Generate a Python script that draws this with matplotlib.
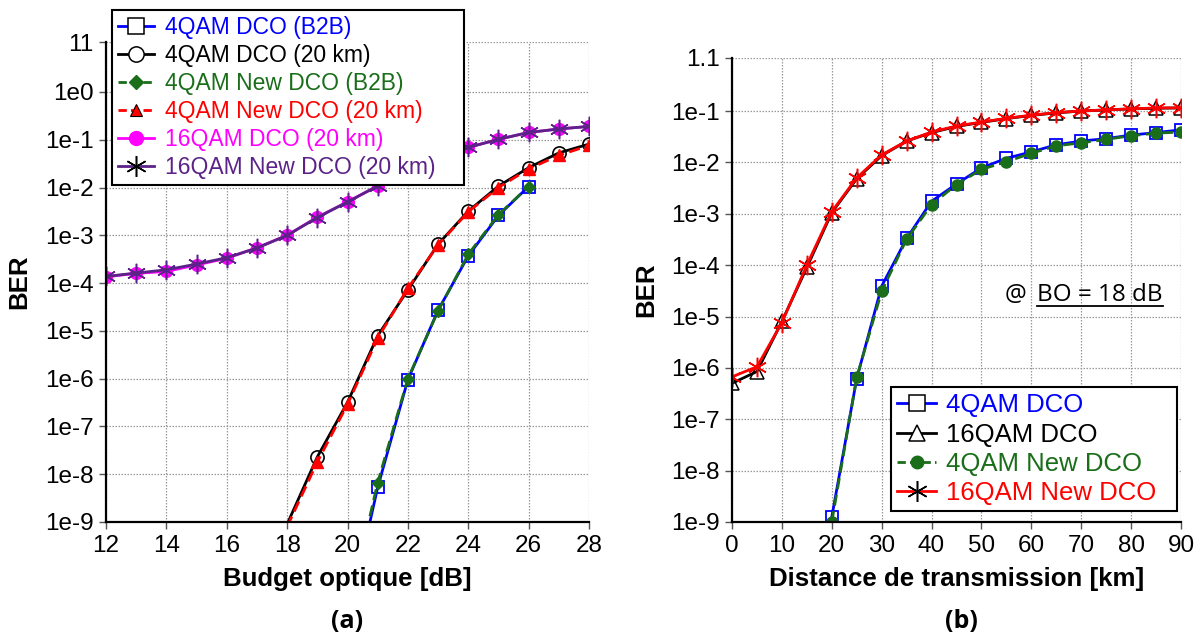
import numpy as np
import matplotlib
matplotlib.use("Agg")
import matplotlib.pyplot as plt
from matplotlib.lines import Line2D

# ---------------- data: panel (a) ----------------
budget = [12, 13, 14, 15, 16, 17, 18, 19, 20, 21, 22, 23, 24, 25, 26, 27, 28]
b2b_x = [20, 21, 22, 23, 24, 25, 26]
ber_4qam_dco_b2b = [8e-12, 5.3e-9, 9.5e-7, 2.7e-5, 3.7e-4, 2.6e-3, 1.05e-2]
ber_4qam_new_b2b = [1.2e-11, 6.7e-9, 1.0e-6, 2.6e-5, 4.0e-4, 2.7e-3, 1.05e-2]
km20_x = [18, 19, 20, 21, 22, 23, 24, 25, 26, 27, 28]
ber_4qam_dco_20 = [9e-10, 2.3e-8, 3.2e-7, 7.9e-6, 7.2e-5, 6.5e-4, 3.2e-3, 1.07e-2, 2.6e-2, 5.3e-2, 8.1e-2]
ber_4qam_new_20 = [8e-10, 1.8e-8, 2.9e-7, 7.0e-6, 7.8e-5, 6.3e-4, 3.1e-3, 1.0e-2, 2.45e-2, 4.7e-2, 7.6e-2]
ber_16qam_dco_20 = [1.35e-4, 1.6e-4, 1.75e-4, 2.4e-4, 3.3e-4, 5.5e-4, 1.0e-3, 2.4e-3, 5.0e-3,
                    1.08e-2, 2.4e-2, 4.5e-2, 6.9e-2, 1.02e-1, 1.42e-1, 1.68e-1, 1.9e-1]
ber_16qam_new_20 = [1.38e-4, 1.62e-4, 1.9e-4, 2.5e-4, 3.4e-4, 5.4e-4, 1.0e-3, 2.35e-3, 5.0e-3,
                    1.08e-2, 2.4e-2, 4.5e-2, 6.9e-2, 1.02e-1, 1.42e-1, 1.68e-1, 1.9e-1]
labels_a = ["4QAM DCO (B2B)", "4QAM DCO (20 km)", "4QAM New DCO (B2B)",
            "4QAM New DCO (20 km)", "16QAM DCO (20 km)", "16QAM New DCO (20 km)"]
yticks_a = [11, 1, 1e-1, 1e-2, 1e-3, 1e-4, 1e-5, 1e-6, 1e-7, 1e-8, 1e-9]
yticklabels_a = ["11", "1e0", "1e-1", "1e-2", "1e-3", "1e-4", "1e-5", "1e-6", "1e-7", "1e-8", "1e-9"]
xticks_a = [12, 14, 16, 18, 20, 22, 24, 26, 28]

# ---------------- data: panel (b) ----------------
dist = [0, 5, 10, 15, 20, 25, 30, 35, 40, 45, 50, 55, 60, 65, 70, 75, 80, 85, 90]
dist_4qam = [20, 25, 30, 35, 40, 45, 50, 55, 60, 65, 70, 75, 80, 85, 90]
ber_4qam_dco = [1.25e-9, 6.2e-7, 3.9e-5, 3.3e-4, 1.75e-3, 3.8e-3, 7.8e-3, 1.2e-2, 1.6e-2,
                2.2e-2, 2.6e-2, 2.9e-2, 3.4e-2, 3.8e-2, 4.3e-2]
ber_4qam_new = [1.0e-9, 6.5e-7, 3.1e-5, 3.2e-4, 1.5e-3, 3.7e-3, 7.3e-3, 1.03e-2, 1.5e-2,
                2.1e-2, 2.4e-2, 2.8e-2, 3.3e-2, 3.7e-2, 3.9e-2]
ber_16qam_dco = [5.0e-7, 8.5e-7, 8.0e-6, 9.0e-5, 1.05e-3, 4.8e-3, 1.35e-2, 2.6e-2, 3.8e-2,
                 5.0e-2, 6.0e-2, 7.1e-2, 8.2e-2, 9.2e-2, 1.0e-1, 1.05e-1, 1.1e-1, 1.13e-1, 1.15e-1]
ber_16qam_new = [6.7e-7, 1.05e-6, 7.6e-6, 1.0e-4, 1.1e-3, 5.0e-3, 1.4e-2, 2.6e-2, 3.9e-2,
                 5.1e-2, 6.1e-2, 7.2e-2, 8.3e-2, 9.3e-2, 1.0e-1, 1.05e-1, 1.1e-1, 1.15e-1, 1.15e-1]
labels_b = ["4QAM DCO", "16QAM DCO", "4QAM New DCO", "16QAM New DCO"]
yticks_b = [1.1, 1e-1, 1e-2, 1e-3, 1e-4, 1e-5, 1e-6, 1e-7, 1e-8, 1e-9]
yticklabels_b = ["1.1", "1e-1", "1e-2", "1e-3", "1e-4", "1e-5", "1e-6", "1e-7", "1e-8", "1e-9"]
xticks_b = [0, 10, 20, 30, 40, 50, 60, 70, 80, 90]

# ---------------- style ----------------
BLUE = "#0000ff"
BLACK = "#000000"
GREEN = "#1a6e1a"
RED = "#ff0000"
MAGENTA = "#ff00ff"
PURPLE = "#5b2388"
ASTER = (6, 2, 0)
ARIAL = "Liberation Sans"

W, H = 1195, 637
fig = plt.figure(figsize=(W / 100, H / 100), dpi=100)
plt.rcParams["font.family"] = [ARIAL, "DejaVu Sans"]

def px_axes(x0, x1, ytop, ybot):
    return fig.add_axes([x0 / W, 1 - ybot / H, (x1 - x0) / W, (ybot - ytop) / H])

axA = px_axes(106, 589, 42.2, 522)
axB = px_axes(732, 1181, 57.5, 522)

def mask(ys, ymin):
    return [y >= ymin for y in ys]

def style_axes(ax, xticks, yticks, yticklabels, xlim, ylim):
    ax.set_yscale("log")
    ax.set_xlim(*xlim)
    ax.set_ylim(*ylim)
    ax.set_xticks(xticks)
    ax.set_yticks(yticks)
    ax.set_yticklabels(yticklabels)
    ax.yaxis.set_minor_locator(matplotlib.ticker.NullLocator())
    ax.tick_params(axis="both", which="major", labelsize=17.5, length=5, width=1,
                   direction="out", pad=4, colors="#555555", labelcolor="black")
    ax.grid(True, which="major", color="#9a9a9a", linestyle=(0, (1.2, 1.2)), linewidth=0.9)
    for s in ["top", "right"]:
        ax.spines[s].set_visible(False)
    for s in ["left", "bottom"]:
        ax.spines[s].set_linewidth(1.6)
        ax.spines[s].set_color("black")
    ax.set_axisbelow(True)

# ---------------- panel (a) ----------------
ymin_a = 1e-9
axA.plot(b2b_x, ber_4qam_dco_b2b, color=BLUE, lw=2, marker="s", ms=9, mfc="none", mec=BLUE,
         mew=1.3, markevery=mask(ber_4qam_dco_b2b, ymin_a))
axA.plot(km20_x, ber_4qam_dco_20, color=BLACK, lw=2, marker="o", ms=9.5, mfc="none", mec=BLACK,
         mew=1.2, markevery=mask(ber_4qam_dco_20, ymin_a))
axA.plot(b2b_x, ber_4qam_new_b2b, color=GREEN, lw=2, ls=(0, (4, 2)), marker="D", ms=6.5,
         mfc=GREEN, mec=GREEN, markevery=mask(ber_4qam_new_b2b, ymin_a))
axA.plot(km20_x, ber_4qam_new_20, color=RED, lw=2, ls=(0, (4, 2)), marker="^", ms=8.5,
         mfc=RED, mec=RED, markevery=mask(ber_4qam_new_20, ymin_a))
axA.plot(budget, ber_16qam_dco_20, color=MAGENTA, lw=2, marker="o", ms=8.5, mfc=MAGENTA, mec=MAGENTA)
axA.plot(budget, ber_16qam_new_20, color=PURPLE, lw=2, marker=ASTER, ms=14, mec=PURPLE, mew=1.1)
style_axes(axA, xticks_a, yticks_a, yticklabels_a, (12, 28), (1e-9, 11))
axA.set_xlabel("Budget optique [dB]", fontsize=18.6, fontweight="bold")
axA.set_ylabel("BER", fontsize=18.6, fontweight="bold")
axA.xaxis.set_label_coords(0.5, -0.094)
axA.yaxis.set_label_coords(-0.155, 0.5)

handles_a = [
    Line2D([], [], color=BLUE, lw=2, marker="s", ms=11, mfc="white", mec="black", mew=1.1),
    Line2D([], [], color=BLACK, lw=2, marker="o", ms=11, mfc="white", mec="black", mew=1.1),
    Line2D([], [], color=GREEN, lw=2, ls=(0, (3, 1.5)), marker="D", ms=7, mfc=GREEN, mec=GREEN),
    Line2D([], [], color=RED, lw=2, ls=(0, (3, 1.5)), marker="^", ms=9, mfc=RED, mec="black", mew=0.8),
    Line2D([], [], color=MAGENTA, lw=2, marker="o", ms=10, mfc=MAGENTA, mec=MAGENTA),
    Line2D([], [], color=PURPLE, lw=2, marker=ASTER, ms=15, mec="black", mew=1.1),
]
colors_a = [BLUE, BLACK, GREEN, RED, MAGENTA, PURPLE]
legA = fig.legend(handles_a, labels_a, loc="upper left", mode="expand",
                  bbox_to_anchor=(112 / W, 1 - 183 / H, (464 - 112) / W, 173 / H),
                  bbox_transform=fig.transFigure,
                  fontsize=16.5, frameon=True, fancybox=False, framealpha=1, edgecolor="black",
                  borderaxespad=0, handlelength=1.6, handletextpad=0.45, labelspacing=0.22,
                  borderpad=0.25)
legA.get_frame().set_linewidth(1.5)
for t, c in zip(legA.get_texts(), colors_a):
    t.set_color(c)

# ---------------- panel (b) ----------------
axB.plot(dist_4qam, ber_4qam_dco, color=BLUE, lw=2, marker="s", ms=9, mfc="none", mec=BLUE, mew=1.3)
axB.plot(dist, ber_16qam_dco, color=BLACK, lw=2, marker="^", ms=9.5, mfc="none", mec=BLACK, mew=1.1)
axB.plot(dist_4qam, ber_4qam_new, color=GREEN, lw=2, ls=(0, (4, 2)), marker="o", ms=8,
         mfc=GREEN, mec=GREEN)
axB.plot(dist, ber_16qam_new, color=RED, lw=2, marker=ASTER, ms=14, mec=RED, mew=1.1)
style_axes(axB, xticks_b, yticks_b, yticklabels_b, (0, 90), (1e-9, 1.1))
axB.set_xlabel("Distance de transmission [km]", fontsize=18.6, fontweight="bold")
axB.set_ylabel("BER", fontsize=18.6, fontweight="bold")
axB.xaxis.set_label_coords(0.5, -0.097)
axB.yaxis.set_label_coords(-0.165, 0.5)

handles_b = [
    Line2D([], [], color=BLUE, lw=2, marker="s", ms=11, mfc="white", mec="black", mew=1.1),
    Line2D([], [], color=BLACK, lw=2, marker="^", ms=11, mfc="white", mec="black", mew=1.1),
    Line2D([], [], color=GREEN, lw=2, ls=(0, (3, 1.5)), marker="o", ms=9, mfc=GREEN, mec=GREEN),
    Line2D([], [], color=RED, lw=2, marker=ASTER, ms=15, mec="black", mew=1.1),
]
colors_b = [BLUE, BLACK, GREEN, RED]
legB = fig.legend(handles_b, labels_b, loc="upper left", mode="expand",
                  bbox_to_anchor=(891 / W, 1 - 513 / H, (1177 - 891) / W, (513 - 387) / H),
                  bbox_transform=fig.transFigure,
                  fontsize=18.5, frameon=True, fancybox=False, framealpha=1, edgecolor="black",
                  borderaxespad=0, handlelength=1.5, handletextpad=0.4, labelspacing=0.2,
                  borderpad=0.25)
legB.get_frame().set_linewidth(1.5)
for t, c in zip(legB.get_texts(), colors_b):
    t.set_color(c)

# annotation "@ BO = 18 dB"
CAL = ["Open Sans", "DejaVu Sans"]
t_at = fig.text(1005 / W, 1 - 295 / H, "@", fontsize=17.5, family=CAL, va="center", ha="left")
t_bo = fig.text(1163 / W, 1 - 295 / H, "BO = 18 dB", fontsize=17.5, family=CAL, va="center", ha="right")
fig.canvas.draw()
bb = t_bo.get_window_extent()
inv = fig.transFigure.inverted()
(x0, y0), (x1, y1) = inv.transform([[bb.x0, bb.y0], [bb.x1, bb.y0]])
fig.add_artist(Line2D([x0, x1], [y0 + 1 / H, y0 + 1 / H], transform=fig.transFigure,
                      color="black", lw=1.3))

# panel captions
CALB = ["Open Sans", "DejaVu Sans"]
fig.text(347 / W, 1 - 621 / H, "(a)", fontsize=18, fontweight="bold", family=CALB,
         ha="center", va="center")
fig.text(961 / W, 1 - 621 / H, "(b)", fontsize=18, fontweight="bold", family=CALB,
         ha="center", va="center")

fig.savefig("out.png", dpi=100)
